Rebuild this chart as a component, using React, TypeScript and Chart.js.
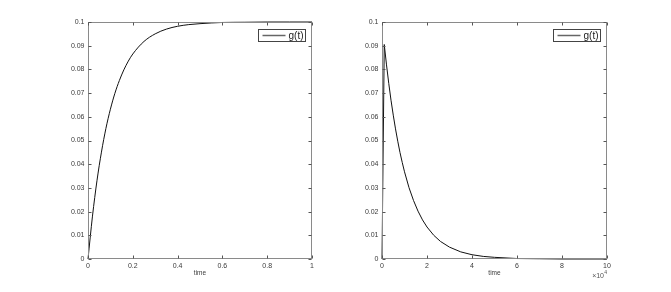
import React, { useEffect, useRef } from "react";
import { Chart, registerables } from "chart.js";

Chart.register(...registerables);

// ---- data ----
const seriesLabel = "g(t)";
const xTitle = "time";

const leftTime = [0, 0.02, 0.04, 0.06, 0.08, 0.1, 0.12, 0.14, 0.16, 0.18, 0.2, 0.25, 0.3, 0.35, 0.4, 0.45, 0.5, 0.6, 0.7, 0.8, 0.9, 1.0];
const leftG = [0, 0.0181, 0.033, 0.0451, 0.0551, 0.0632, 0.0699, 0.0753, 0.0798, 0.0835, 0.0865, 0.0918, 0.095, 0.097, 0.0982, 0.0989, 0.0993, 0.0998, 0.0999, 0.1, 0.1, 0.1];

const rightTime = [0, 1000, 2000, 3000, 4000, 5000, 6000, 7000, 8000, 9000, 10000, 12000, 14000, 16000, 18000, 20000, 23000, 26000, 30000, 35000, 40000, 45000, 50000, 60000, 70000, 80000, 100000];
const rightG = [0, 0.0905, 0.0819, 0.0741, 0.067, 0.0607, 0.0549, 0.0497, 0.0449, 0.0407, 0.0368, 0.0301, 0.0247, 0.0202, 0.0165, 0.0135, 0.01, 0.0074, 0.005, 0.003, 0.0018, 0.0011, 0.0007, 0.0002, 0.0001, 0, 0];

const yTickValues = [0, 0.01, 0.02, 0.03, 0.04, 0.05, 0.06, 0.07, 0.08, 0.09, 0.1];
const leftXTickValues = [0, 0.2, 0.4, 0.6, 0.8, 1];
const rightXTickValues = [0, 20000, 40000, 60000, 80000, 100000];
const rightXScaleDivisor = 10000;
const rightXExponentBase = "×10";
const rightXExponent = "4";

const FONT = "'Liberation Sans', Arial, Helvetica, sans-serif";
const AXIS_COLOR = "#8a8a8a";
const TEXT_COLOR = "#3a3a3a";

type PanelCfg = {
  times: number[];
  values: number[];
  xTicks: number[];
  xMax: number;
  xFormat: (v: number) => string;
  yAxisWidth: number;
  rightPad: number;
  smooth: boolean;
  exponent?: boolean;
};

function fmt(v: number) {
  return String(Number(v.toFixed(4)));
}

const matlabAxesPlugin = (exponent: boolean) => ({
  id: "matlabAxes",
  afterDatasetsDraw(chart: any) {
    const { ctx, chartArea: a, scales } = chart;
    const xs = scales.x;
    const ys = scales.y;
    ctx.save();
    ctx.strokeStyle = AXIS_COLOR;
    ctx.lineWidth = 1;
    const L = Math.round(a.left) + 0.5;
    const R = Math.round(a.right) - 0.5;
    const T = Math.round(a.top) + 0.5;
    const B = Math.round(a.bottom) - 0.5;
    ctx.strokeRect(L, T, R - L, B - T);
    const tl = 3;
    ctx.strokeStyle = "#555";
    ctx.beginPath();
    xs.ticks.forEach((t: any) => {
      const px = Math.round(xs.getPixelForValue(t.value)) + 0.5;
      ctx.moveTo(px, B);
      ctx.lineTo(px, B - tl);
      ctx.moveTo(px, T);
      ctx.lineTo(px, T + tl);
    });
    ys.ticks.forEach((t: any) => {
      const py = Math.round(ys.getPixelForValue(t.value)) + 0.5;
      ctx.moveTo(L, py);
      ctx.lineTo(L + tl, py);
      ctx.moveTo(R, py);
      ctx.lineTo(R - tl, py);
    });
    ctx.stroke();

    // legend
    const bw = 47, bh = 12;
    const bx = Math.round(a.right) - 7 - bw + 0.5;
    const by = Math.round(a.top) + 7 + 0.5;
    ctx.fillStyle = "#ffffff";
    ctx.fillRect(bx, by, bw, bh);
    ctx.strokeStyle = "#444";
    ctx.lineWidth = 1;
    ctx.strokeRect(bx, by, bw, bh);
    ctx.strokeStyle = "#666";
    ctx.lineWidth = 1.5;
    ctx.beginPath();
    ctx.moveTo(bx + 4, by + bh / 2);
    ctx.lineTo(bx + 27, by + bh / 2);
    ctx.stroke();
    ctx.fillStyle = "#222";
    ctx.font = `10px ${FONT}`;
    ctx.textBaseline = "middle";
    ctx.textAlign = "left";
    ctx.fillText(seriesLabel, bx + 30, by + bh / 2 + 0.5);

    if (exponent) {
      ctx.font = `7px ${FONT}`;
      ctx.fillStyle = "#555";
      ctx.textAlign = "right";
      ctx.textBaseline = "alphabetic";
      const supW = 3;
      ctx.fillText(rightXExponentBase, a.right - supW, 278);
      ctx.font = `5px ${FONT}`;
      ctx.textAlign = "left";
      ctx.fillText(rightXExponent, a.right - supW + 0.3, 274);
    }
    ctx.restore();
  },
});

function Panel({ cfg, width, left }: { cfg: PanelCfg; width: number; left: number }) {
  const ref = useRef<HTMLCanvasElement | null>(null);
  useEffect(() => {
    if (!ref.current) return;
    const chart = new Chart(ref.current, {
      type: "line",
      data: {
        datasets: [
          {
            label: seriesLabel,
            data: cfg.times.map((t, i) => ({ x: t, y: cfg.values[i] })),
            borderColor: "#111111",
            borderWidth: 1,
            pointRadius: 0,
            fill: false,
            tension: 0,
            cubicInterpolationMode: cfg.smooth ? "monotone" : "default",
            clip: false as any,
          } as any,
        ],
      },
      options: {
        animation: false,
        responsive: false,
        events: [],
        layout: { padding: { left: 0, top: 22, right: cfg.rightPad, bottom: 0 } },
        plugins: { legend: { display: false }, tooltip: { enabled: false }, title: { display: false } },
        scales: {
          x: {
            type: "linear",
            min: 0,
            max: cfg.xMax,
            grid: { display: false, drawTicks: false },
            border: { display: false },
            afterBuildTicks: (s: any) => {
              s.ticks = cfg.xTicks.map((v) => ({ value: v }));
            },
            afterFit: (s: any) => {
              s.height = 33;
            },
            ticks: {
              color: TEXT_COLOR,
              font: { family: FONT, size: 7 },
              padding: 2.5,
              maxRotation: 0,
              autoSkip: false,
              callback: (v: any) => cfg.xFormat(Number(v)),
            },
            title: {
              display: true,
              text: xTitle,
              color: TEXT_COLOR,
              font: { family: FONT, size: 6.5 },
              padding: { top: 0, bottom: 15 },
            },
          },
          y: {
            type: "linear",
            min: 0,
            max: 0.1,
            grid: { display: false, drawTicks: false },
            border: { display: false },
            afterBuildTicks: (s: any) => {
              s.ticks = yTickValues.map((v) => ({ value: v }));
            },
            afterFit: (s: any) => {
              s.width = cfg.yAxisWidth;
            },
            ticks: {
              color: TEXT_COLOR,
              font: { family: FONT, size: 7 },
              padding: 3.5,
              autoSkip: false,
              callback: (v: any) => fmt(Number(v)),
            },
          },
        },
      },
      plugins: [matlabAxesPlugin(!!cfg.exponent)],
    });
    return () => chart.destroy();
  }, []);
  return (
    <canvas
      ref={ref}
      width={width}
      height={292}
      style={{ position: "absolute", left, top: 0, width, height: 292 }}
    />
  );
}

export default function App() {
  const leftCfg: PanelCfg = {
    times: leftTime,
    values: leftG,
    xTicks: leftXTickValues,
    xMax: 1,
    xFormat: (v) => fmt(v),
    yAxisWidth: 88,
    rightPad: 340 - 312,
    smooth: true,
  };
  const rightCfg: PanelCfg = {
    times: rightTime,
    values: rightG,
    xTicks: rightXTickValues,
    xMax: 100000,
    xFormat: (v) => fmt(v / rightXScaleDivisor),
    yAxisWidth: 382 - 340,
    rightPad: 671 - 607,
    smooth: false,
    exponent: true,
  };
  return (
    <div style={{ position: "fixed", left: 0, top: 0, width: 671, height: 292, background: "#fff" }}>
      <Panel cfg={leftCfg} width={340} left={0} />
      <Panel cfg={rightCfg} width={331} left={340} />
    </div>
  );
}
